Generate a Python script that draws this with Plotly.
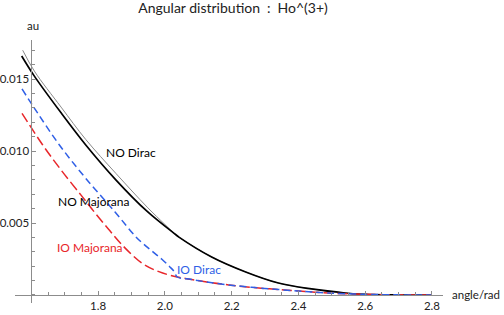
import plotly.graph_objects as go

# ---- data ----
no_dirac_angle = [1.574, 1.609, 1.689, 1.763, 1.853, 1.947, 2.000, 2.032]
no_dirac_head = [0.0170, 0.01555, 0.01305, 0.01080, 0.00845, 0.00610, 0.00490, 0.00420]

no_maj_angle = [1.571, 1.609, 1.689, 1.763, 1.853, 1.947, 2.032]
no_maj_head = [0.0166, 0.0152, 0.01265, 0.01042, 0.0080, 0.0058, 0.00420]

no_tail_angle = [2.042, 2.140, 2.242, 2.340, 2.439, 2.540, 2.600, 2.700, 2.800]
no_tail = [0.00402, 0.00264, 0.00160, 0.00083, 0.00042, 0.00014, 0.00004, 0.0, 0.0]

io_dirac_angle = [1.572, 1.616, 1.684, 1.763, 1.850, 1.9125, 1.937, 1.965, 1.991, 2.015, 2.028, 2.037]
io_dirac_head = [0.01431, 0.01273, 0.01042, 0.00810, 0.00578, 0.00405, 0.00352, 0.00298, 0.00248, 0.00195, 0.00162, 0.00125]

io_maj_angle = [1.572, 1.634, 1.689, 1.750, 1.788, 1.830, 1.872, 1.932, 1.982, 2.037]
io_maj_head = [0.01262, 0.01042, 0.00868, 0.0069, 0.00578, 0.00460, 0.00347, 0.00220, 0.00162, 0.00125]

io_tail_angle = [2.080, 2.131, 2.191, 2.260, 2.340, 2.420, 2.490, 2.590, 2.700, 2.800]
io_tail = [0.00108, 0.00088, 0.00070, 0.00053, 0.00038, 0.00024, 0.00014, 0.00005, 0.00001, 0.0]

x_tick_vals = [1.8, 2.0, 2.2, 2.4, 2.6, 2.8]
x_tick_text = ["1.8", "2.0", "2.2", "2.4", "2.6", "2.8"]
y_tick_vals = [0.005, 0.010, 0.015]
y_tick_text = ["0.005", "0.010", "0.015"]

FONT = "Lato"
RED = "#e8262a"
BLUE = "#2f5fe6"

x_range = [1.551, 2.833]
y_range = [-0.000556, 0.01771]
origin_x = 1.6

fig = go.Figure()

fig.add_trace(go.Scatter(x=no_dirac_angle + no_tail_angle, y=no_dirac_head + no_tail,
                         mode="lines", line=dict(color="#8a8a8a", width=1, shape="spline"),
                         showlegend=False, hoverinfo="skip"))
fig.add_trace(go.Scatter(x=no_maj_angle + no_tail_angle, y=no_maj_head + no_tail,
                         mode="lines", line=dict(color="black", width=1.7, shape="spline"),
                         showlegend=False, hoverinfo="skip"))
fig.add_trace(go.Scatter(x=io_maj_angle + io_tail_angle, y=io_maj_head + io_tail,
                         mode="lines", line=dict(color=RED, width=1.5, dash="10px,4px", shape="spline"),
                         showlegend=False, hoverinfo="skip"))
fig.add_trace(go.Scatter(x=io_dirac_angle + io_tail_angle, y=io_dirac_head + io_tail,
                         mode="lines", line=dict(color=BLUE, width=1.5, dash="7px,4px", shape="spline"),
                         showlegend=False, hoverinfo="skip"))

xpos = (0 - y_range[0]) / (y_range[1] - y_range[0])
ypos = (origin_x - x_range[0]) / (x_range[1] - x_range[0])

fig.update_layout(
    width=504, height=315,
    margin=dict(l=15, r=61, t=40, b=12, autoexpand=False),
    paper_bgcolor="white", plot_bgcolor="white",
    font=dict(family=FONT, size=11, color="#222"),
    title=dict(text="Angular distribution\u2002:\u2002Ho^(3+)", x=233 / 504, xref="container",
               xanchor="center", y=0.99, yanchor="top",
               font=dict(family=FONT, size=14, color="#222")),
    xaxis=dict(range=x_range, anchor="free", position=xpos, showline=True, automargin=False,
               linecolor="#8c8c8c", linewidth=1, showgrid=False, zeroline=False,
               tickmode="array", tickvals=x_tick_vals, ticktext=x_tick_text,
               ticks="inside", ticklen=4, tickcolor="#8c8c8c", tickwidth=1,
               minor=dict(tickmode="linear", tick0=1.55, dtick=0.05, ticks="inside",
                          ticklen=2.5, tickcolor="#8c8c8c", tickwidth=1, showgrid=False),
               tickfont=dict(family=FONT, size=11.5, color="#222")),
    yaxis=dict(range=y_range, anchor="free", position=ypos, showline=True, automargin=False,
               linecolor="#8c8c8c", linewidth=1, showgrid=False, zeroline=False,
               tickmode="array", tickvals=y_tick_vals, ticktext=y_tick_text,
               ticks="inside", ticklen=4, tickcolor="#8c8c8c", tickwidth=1,
               minor=dict(tickmode="linear", tick0=0, dtick=0.001, ticks="inside",
                          ticklen=2.5, tickcolor="#8c8c8c", tickwidth=1, showgrid=False),
               tickfont=dict(family=FONT, size=11.5, color="#222")),
)

ann_font = dict(family=FONT, size=12)
fig.add_annotation(x=1.8985, y=0.00993, text="NO Dirac", showarrow=False,
                   font=dict(**ann_font, color="black"))
fig.add_annotation(x=1.785, y=0.00646, text="NO Majorana", showarrow=False,
                   font=dict(**ann_font, color="black"))
fig.add_annotation(x=1.776, y=0.00333, text="IO Majorana", showarrow=False,
                   font=dict(**ann_font, color=RED))
fig.add_annotation(x=2.101, y=0.0018, text="IO Dirac", showarrow=False,
                   font=dict(**ann_font, color=BLUE))
fig.add_annotation(x=ypos, y=1, xref="paper", yref="paper", text="au", showarrow=False,
                   xanchor="left", yanchor="bottom", yshift=6, xshift=-6,
                   font=dict(family=FONT, size=11.5, color="#222"))
fig.add_annotation(x=1, y=0, xref="paper", yref="y", text="angle/rad", showarrow=False,
                   xanchor="left", yanchor="middle", xshift=7,
                   font=dict(family=FONT, size=11.5, color="#222"))

fig.write_html("out.html", config={"displayModeBar": False},
               post_script="document.body.style.margin='0';document.body.style.overflow='hidden';")
